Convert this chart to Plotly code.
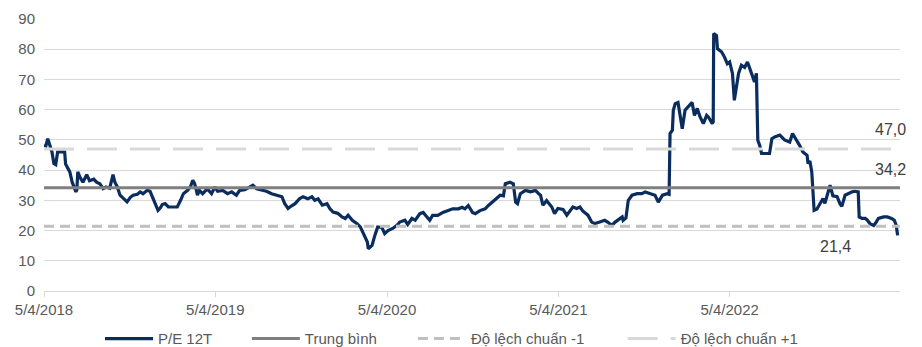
import plotly.graph_objects as go

dates = [
    "2018-04-05","2018-04-09","2018-04-13","2018-04-18","2018-04-22","2018-04-26","2018-04-30","2018-05-04","2018-05-13","2018-05-19",
    "2018-05-21","2018-05-30","2018-06-04","2018-06-08","2018-06-12","2018-06-14","2018-06-16","2018-06-21","2018-06-27","2018-07-05",
    "2018-07-11","2018-07-20","2018-07-26","2018-08-02","2018-08-09","2018-08-15","2018-08-23","2018-08-28","2018-08-30","2018-09-03",
    "2018-09-08","2018-09-14","2018-09-23","2018-09-29","2018-10-06","2018-10-12","2018-10-21","2018-10-27","2018-11-02","2018-11-11",
    "2018-11-17","2018-11-21","2018-11-28","2018-12-04","2018-12-09","2018-12-13","2018-12-19","2018-12-26","2019-01-04","2019-01-14",
    "2019-01-21","2019-01-27","2019-02-05","2019-02-11","2019-02-16","2019-02-20","2019-02-22","2019-02-26","2019-03-02","2019-03-09",
    "2019-03-19","2019-03-28","2019-04-04","2019-04-10","2019-04-21","2019-05-01","2019-05-10","2019-05-20","2019-05-27","2019-06-07",
    "2019-06-17","2019-06-24","2019-07-02","2019-07-13","2019-07-23","2019-08-03","2019-08-16","2019-08-25","2019-08-31","2019-09-07",
    "2019-09-11","2019-09-22","2019-10-02","2019-10-09","2019-10-19","2019-10-28","2019-11-03","2019-11-10","2019-11-19","2019-11-29",
    "2019-12-05","2019-12-12","2019-12-22","2019-12-31","2020-01-07","2020-01-13","2020-01-22","2020-02-01","2020-02-08","2020-02-14",
    "2020-02-23","2020-02-25","2020-03-04","2020-03-10","2020-03-16","2020-03-25","2020-03-31","2020-04-07","2020-04-17","2020-04-26",
    "2020-05-02","2020-05-13","2020-05-19","2020-05-28","2020-06-04","2020-06-14","2020-06-21","2020-06-29","2020-07-05","2020-07-11",
    "2020-07-22","2020-08-02","2020-08-13","2020-08-23","2020-09-04","2020-09-12","2020-09-18","2020-09-25","2020-10-04","2020-10-10",
    "2020-10-20","2020-10-31","2020-11-07","2020-11-15","2020-11-26","2020-12-02","2020-12-09","2020-12-13","2020-12-23","2020-12-30",
    "2021-01-04","2021-01-08","2021-01-14","2021-01-25","2021-02-05","2021-02-15","2021-02-22","2021-02-26","2021-03-03","2021-03-11",
    "2021-03-22","2021-03-28","2021-04-04","2021-04-15","2021-04-23","2021-04-30","2021-05-06","2021-05-14","2021-05-21","2021-05-27",
    "2021-06-07","2021-06-15","2021-06-22","2021-07-02","2021-07-13","2021-07-19","2021-07-28","2021-08-04","2021-08-10","2021-08-19",
    "2021-08-21","2021-08-27","2021-09-01","2021-09-09","2021-09-20","2021-09-30","2021-10-07","2021-10-17","2021-10-28","2021-11-04",
    "2021-11-13","2021-11-23","2021-11-27","2021-11-29","2021-12-04","2021-12-06","2021-12-10","2021-12-16","2021-12-21","2021-12-25",
    "2021-12-31","2022-01-07","2022-01-15","2022-01-20","2022-01-26","2022-02-01","2022-02-08","2022-02-15","2022-02-19","2022-02-27",
    "2022-03-01","2022-03-02","2022-03-08","2022-03-10","2022-03-19","2022-03-25","2022-03-31","2022-04-05","2022-04-11","2022-04-15",
    "2022-04-20","2022-04-24","2022-04-30","2022-05-07","2022-05-13","2022-05-17","2022-05-22","2022-05-28","2022-06-01","2022-06-04",
    "2022-06-08","2022-06-12","2022-06-29","2022-07-04","2022-07-10","2022-07-21","2022-07-31","2022-08-11","2022-08-17","2022-08-26",
    "2022-09-01","2022-09-08","2022-09-17","2022-09-19","2022-09-23","2022-09-27","2022-09-29","2022-10-02","2022-10-08","2022-10-14",
    "2022-10-21","2022-10-25","2022-10-31","2022-11-05","2022-11-11","2022-11-20","2022-11-26","2022-11-30","2022-12-07","2022-12-13",
    "2022-12-22","2022-12-28","2023-01-04","2023-01-06","2023-01-12","2023-01-19","2023-01-23","2023-01-29","2023-02-06","2023-02-10",
    "2023-02-16","2023-02-27","2023-03-07","2023-03-16","2023-03-22","2023-03-26","2023-03-29",
]

pe_values = [
    48.2, 48.0, 50.4, 48.0, 46.0, 42.2, 41.8, 46.0, 46.0, 46.0,
    42.0, 39.4, 36.0, 34.0, 32.8, 33.5, 39.4, 37.5, 36.0, 38.5,
    36.5, 37.0, 36.0, 35.5, 33.9, 34.4, 34.0, 37.2, 38.5, 36.0,
    34.5, 31.7, 30.5, 29.5, 31.0, 31.7, 32.0, 32.8, 32.2, 33.3,
    33.0, 31.5, 28.9, 26.7, 27.5, 28.6, 28.9, 27.8, 27.8, 27.8,
    30.0, 32.2, 33.3, 34.5, 36.6, 35.5, 34.4, 31.7, 33.3, 32.2,
    33.8, 32.2, 34.4, 33.0, 33.3, 32.2, 32.8, 31.7, 33.3, 33.5,
    34.4, 35.0, 33.8, 33.3, 33.0, 32.2, 31.7, 31.2, 28.9, 27.3,
    27.8, 28.9, 30.6, 31.2, 30.5, 31.2, 30.0, 30.5, 28.4, 28.9,
    27.3, 26.1, 25.7, 24.5, 24.0, 25.1, 23.4, 22.3, 21.2, 19.0,
    16.2, 14.0, 15.1, 18.4, 21.2, 21.0, 19.0, 20.0, 20.7, 21.7,
    22.8, 23.4, 22.0, 24.0, 23.4, 25.6, 26.0, 24.5, 23.4, 25.0,
    25.0, 26.0, 26.6, 27.2, 27.2, 27.7, 27.2, 28.3, 26.0, 25.6,
    26.6, 27.2, 28.3, 29.4, 30.6, 31.7, 31.5, 35.5, 36.0, 35.5,
    29.4, 28.9, 32.2, 33.3, 32.8, 33.3, 32.2, 31.7, 28.4, 29.9,
    27.8, 25.6, 27.3, 27.0, 25.1, 26.5, 27.8, 27.3, 27.8, 26.5,
    25.1, 22.8, 22.3, 22.8, 23.4, 22.8, 21.7, 22.8, 23.4, 24.5,
    23.4, 24.2, 30.0, 31.7, 32.2, 32.2, 32.8, 32.2, 31.7, 29.4,
    31.7, 32.2, 32.0, 52.1, 53.2, 59.8, 62.0, 62.4, 56.5, 53.7,
    59.8, 61.0, 62.4, 58.1, 60.4, 57.6, 55.4, 58.1, 57.5, 55.4,
    56.0, 85.2, 84.5, 80.2, 79.1, 77.4, 75.2, 75.8, 72.0, 63.1,
    67.5, 72.0, 74.7, 74.0, 75.8, 74.0, 72.0, 69.2, 72.0, 49.9,
    48.2, 45.5, 45.5, 50.4, 51.0, 51.6, 50.0, 49.3, 52.1, 50.0,
    48.2, 46.0, 44.9, 42.2, 43.0, 39.4, 34.4, 26.7, 27.1, 28.9,
    30.6, 29.0, 32.2, 35.0, 31.5, 31.2, 28.9, 28.0, 31.7, 32.2,
    32.8, 33.0, 32.8, 24.5, 24.0, 24.0, 23.5, 22.3, 21.7, 22.5,
    24.0, 24.5, 24.5, 24.0, 23.4, 21.7, 18.4,
]

period = ["2018-04-05", "2023-04-03"]
mean_value = 34.2
minus_sd_value = 21.4
plus_sd_value = 47.0

tick_dates = ["2018-04-05", "2019-04-05", "2020-04-05", "2021-04-05", "2022-04-05"]
tick_labels = ["5/4/2018", "5/4/2019", "5/4/2020", "5/4/2021", "5/4/2022"]
y_ticks = [0, 10, 20, 30, 40, 50, 60, 70, 80, 90]

series_names = ["P/E 12T", "Trung bình", "Độ lệch chuẩn -1", "Độ lệch chuẩn +1"]

FONT = "Liberation Sans, Arial, sans-serif"
LEG_FONT = dict(family=FONT, size=15, color="#595959")

fig = go.Figure()
fig.add_trace(go.Scatter(x=dates, y=pe_values, mode="lines", name=series_names[0],
                         line=dict(color="#0B2D5E", width=3.2), legend="legend"))
fig.add_trace(go.Scatter(x=period, y=[mean_value] * 2, mode="lines", name=series_names[1],
                         line=dict(color="#7F7F7F", width=3), legend="legend2"))
fig.add_trace(go.Scatter(x=period, y=[minus_sd_value] * 2, mode="lines", name=series_names[2],
                         line=dict(color="#BFBFBF", width=3, dash="10px,6px"), legend="legend3"))
fig.add_trace(go.Scatter(x=period, y=[plus_sd_value] * 2, mode="lines", name=series_names[3],
                         line=dict(color="#D9D9D9", width=3, dash="30px,13px"), legend="legend4"))

def fmt(v):
    return f"{v:.1f}".replace(".", ",")

annos = [
    dict(x=period[1], y=plus_sd_value, text=fmt(plus_sd_value), xanchor="right", yanchor="bottom", yshift=9, xshift=8),
    dict(x=period[1], y=mean_value, text=fmt(mean_value), xanchor="right", yanchor="bottom", yshift=8, xshift=8),
    dict(x="2022-11-17", y=minus_sd_value, text=fmt(minus_sd_value), xanchor="center", yanchor="top", yshift=-10),
]
for a in annos:
    fig.add_annotation(**a, showarrow=False, font=dict(family=FONT, size=16, color="#404040"))

def leg(x):
    return dict(orientation="h", x=x, xanchor="left", y=-0.115, yanchor="top", itemwidth=48,
                font=LEG_FONT, bgcolor="rgba(0,0,0,0)")

fig.update_layout(
    width=922, height=347,
    margin=dict(l=44, r=22, t=19, b=56, autoexpand=False),
    paper_bgcolor="white", plot_bgcolor="white",
    font=dict(family=FONT, size=15, color="#595959"),
    showlegend=True,
    legend=leg(0.0654),
    legend2=leg(0.237),
    legend3=leg(0.431),
    legend4=leg(0.676),
)
fig.update_xaxes(type="date", range=period, tickvals=tick_dates, ticktext=tick_labels,
                 showgrid=False, showline=True, linecolor="#D9D9D9", linewidth=1,
                 ticks="outside", tickcolor="#D9D9D9", ticklen=5,
                 tickfont=dict(family=FONT, size=15, color="#595959"))
fig.update_yaxes(range=[0, 90], tickvals=y_ticks, showgrid=True, gridcolor="#D9D9D9", gridwidth=1,
                 zeroline=False, showline=False, ticks="", ticklabelstandoff=8,
                 tickfont=dict(family=FONT, size=15, color="#595959"))

fig.write_html("out.html")
